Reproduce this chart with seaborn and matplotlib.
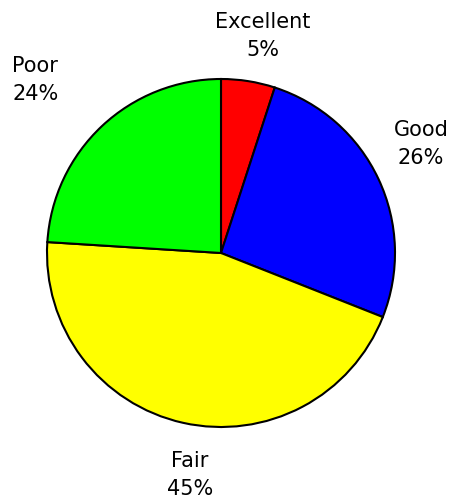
import matplotlib
matplotlib.use("Agg")
import matplotlib.pyplot as plt
import seaborn as sns
import numpy as np

sns.set_theme(style="white")
plt.rcParams['font.family'] = ['DejaVu Sans']

categories = ["Excellent", "Good", "Fair", "Poor"]
values = [5, 26, 45, 24]
colors = ["#ff0000", "#0000ff", "#ffff00", "#00ff00"]

# label placement style: (distance in radii, angle shift in degrees)
label_dist = [1.27, 1.31, 1.29, 1.46]
label_shift = [-2.0, 3.4, 4.6, 3.8]

W, H = 453, 498
fig = plt.figure(figsize=(W / 100, H / 100), dpi=100)
cx, cy, r = 221, 253, 174
ax = fig.add_axes([(cx - r) / W, (H - cy - r) / H, 2 * r / W, 2 * r / H])
wedges, _ = ax.pie(values, colors=colors, startangle=90, counterclock=False,
                   wedgeprops=dict(edgecolor="black", linewidth=1.5))
ax.set_xlim(-1, 1)
ax.set_ylim(-1, 1)
ax.set_axis_off()

for w, cat, v, d, s in zip(wedges, categories, values, label_dist, label_shift):
    ang = np.deg2rad((w.theta1 + w.theta2) / 2 + s)
    ax.text(d * np.cos(ang), d * np.sin(ang), f"{cat}\n{v}%", ha="center",
            va="center", fontsize=15, color="black", linespacing=1.5,
            clip_on=False)

fig.savefig("out.png", dpi=100, facecolor="white")
